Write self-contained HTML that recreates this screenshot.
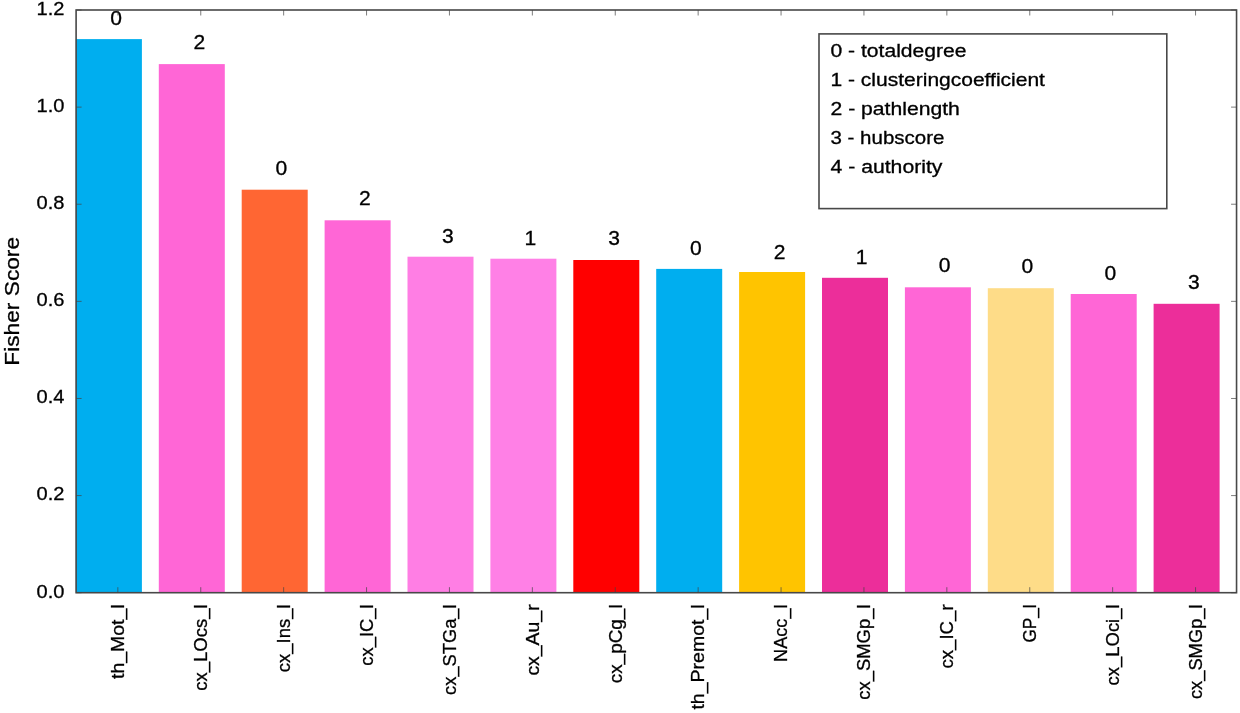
<!DOCTYPE html>
<html><head><meta charset="utf-8"><style>
html,body{margin:0;padding:0;background:#fff;}
svg{display:block;font-family:"Liberation Sans", sans-serif;filter:blur(0.4px);}
text{fill:#000;stroke:#000;stroke-width:0.3px;}
</style></head><body>
<svg width="1240" height="713" viewBox="0 0 1240 713">
<rect x="75.90" y="39.10" width="66.00" height="553.60" fill="#00AEEF"/>
<rect x="158.80" y="64.10" width="66.00" height="528.60" fill="#FF66D6"/>
<rect x="241.70" y="189.70" width="66.00" height="403.00" fill="#FF6633"/>
<rect x="324.60" y="220.30" width="66.00" height="372.40" fill="#FF66D6"/>
<rect x="407.50" y="256.70" width="66.00" height="336.00" fill="#FF7EE4"/>
<rect x="490.40" y="258.70" width="66.00" height="334.00" fill="#FF80E6"/>
<rect x="573.30" y="260.00" width="66.00" height="332.70" fill="#FF0000"/>
<rect x="656.20" y="268.90" width="66.00" height="323.80" fill="#00AEEF"/>
<rect x="739.10" y="272.00" width="66.00" height="320.70" fill="#FFC400"/>
<rect x="822.00" y="277.80" width="66.00" height="314.90" fill="#EC2E9A"/>
<rect x="904.90" y="287.30" width="66.00" height="305.40" fill="#FF66D6"/>
<rect x="987.80" y="288.20" width="66.00" height="304.50" fill="#FEDC88"/>
<rect x="1070.70" y="294.00" width="66.00" height="298.70" fill="#FF66D6"/>
<rect x="1153.60" y="303.80" width="66.00" height="288.90" fill="#EC2E9A"/>
<text text-anchor="middle" font-size="19.5" transform="translate(116.10,25.00) scale(1.08,1)">0</text>
<text text-anchor="middle" font-size="19.5" transform="translate(199.30,49.00) scale(1.08,1)">2</text>
<text text-anchor="middle" font-size="19.5" transform="translate(281.40,175.40) scale(1.08,1)">0</text>
<text text-anchor="middle" font-size="19.5" transform="translate(364.90,205.00) scale(1.08,1)">2</text>
<text text-anchor="middle" font-size="19.5" transform="translate(447.90,242.60) scale(1.08,1)">3</text>
<text text-anchor="middle" font-size="19.5" transform="translate(530.40,244.80) scale(1.08,1)">1</text>
<text text-anchor="middle" font-size="19.5" transform="translate(614.10,245.40) scale(1.08,1)">3</text>
<text text-anchor="middle" font-size="19.5" transform="translate(695.90,255.00) scale(1.08,1)">0</text>
<text text-anchor="middle" font-size="19.5" transform="translate(779.70,258.60) scale(1.08,1)">2</text>
<text text-anchor="middle" font-size="19.5" transform="translate(861.60,263.50) scale(1.08,1)">1</text>
<text text-anchor="middle" font-size="19.5" transform="translate(944.70,272.00) scale(1.08,1)">0</text>
<text text-anchor="middle" font-size="19.5" transform="translate(1027.40,272.80) scale(1.08,1)">0</text>
<text text-anchor="middle" font-size="19.5" transform="translate(1110.40,279.50) scale(1.08,1)">0</text>
<text text-anchor="middle" font-size="19.5" transform="translate(1193.90,288.50) scale(1.08,1)">3</text>
<rect x="76.1" y="10.0" width="1160.45" height="582.70" fill="none" stroke="#484848" stroke-width="1.6"/>
<line x1="117.85" y1="10.0" x2="117.85" y2="15.5" stroke="#444" stroke-width="0.7"/>
<line x1="117.85" y1="592.7" x2="117.85" y2="587.2" stroke="#444" stroke-width="0.7"/>
<line x1="200.75" y1="10.0" x2="200.75" y2="15.5" stroke="#444" stroke-width="0.7"/>
<line x1="200.75" y1="592.7" x2="200.75" y2="587.2" stroke="#444" stroke-width="0.7"/>
<line x1="283.65" y1="10.0" x2="283.65" y2="15.5" stroke="#444" stroke-width="0.7"/>
<line x1="283.65" y1="592.7" x2="283.65" y2="587.2" stroke="#444" stroke-width="0.7"/>
<line x1="366.55" y1="10.0" x2="366.55" y2="15.5" stroke="#444" stroke-width="0.7"/>
<line x1="366.55" y1="592.7" x2="366.55" y2="587.2" stroke="#444" stroke-width="0.7"/>
<line x1="449.45" y1="10.0" x2="449.45" y2="15.5" stroke="#444" stroke-width="0.7"/>
<line x1="449.45" y1="592.7" x2="449.45" y2="587.2" stroke="#444" stroke-width="0.7"/>
<line x1="532.35" y1="10.0" x2="532.35" y2="15.5" stroke="#444" stroke-width="0.7"/>
<line x1="532.35" y1="592.7" x2="532.35" y2="587.2" stroke="#444" stroke-width="0.7"/>
<line x1="615.25" y1="10.0" x2="615.25" y2="15.5" stroke="#444" stroke-width="0.7"/>
<line x1="615.25" y1="592.7" x2="615.25" y2="587.2" stroke="#444" stroke-width="0.7"/>
<line x1="698.15" y1="10.0" x2="698.15" y2="15.5" stroke="#444" stroke-width="0.7"/>
<line x1="698.15" y1="592.7" x2="698.15" y2="587.2" stroke="#444" stroke-width="0.7"/>
<line x1="781.05" y1="10.0" x2="781.05" y2="15.5" stroke="#444" stroke-width="0.7"/>
<line x1="781.05" y1="592.7" x2="781.05" y2="587.2" stroke="#444" stroke-width="0.7"/>
<line x1="863.95" y1="10.0" x2="863.95" y2="15.5" stroke="#444" stroke-width="0.7"/>
<line x1="863.95" y1="592.7" x2="863.95" y2="587.2" stroke="#444" stroke-width="0.7"/>
<line x1="946.85" y1="10.0" x2="946.85" y2="15.5" stroke="#444" stroke-width="0.7"/>
<line x1="946.85" y1="592.7" x2="946.85" y2="587.2" stroke="#444" stroke-width="0.7"/>
<line x1="1029.75" y1="10.0" x2="1029.75" y2="15.5" stroke="#444" stroke-width="0.7"/>
<line x1="1029.75" y1="592.7" x2="1029.75" y2="587.2" stroke="#444" stroke-width="0.7"/>
<line x1="1112.65" y1="10.0" x2="1112.65" y2="15.5" stroke="#444" stroke-width="0.7"/>
<line x1="1112.65" y1="592.7" x2="1112.65" y2="587.2" stroke="#444" stroke-width="0.7"/>
<line x1="1195.55" y1="10.0" x2="1195.55" y2="15.5" stroke="#444" stroke-width="0.7"/>
<line x1="1195.55" y1="592.7" x2="1195.55" y2="587.2" stroke="#444" stroke-width="0.7"/>
<line x1="76.1" y1="592.70" x2="81.6" y2="592.70" stroke="#444" stroke-width="0.7"/>
<line x1="1231.05" y1="592.70" x2="1236.55" y2="592.70" stroke="#444" stroke-width="0.7"/>
<line x1="76.1" y1="495.58" x2="81.6" y2="495.58" stroke="#444" stroke-width="0.7"/>
<line x1="1231.05" y1="495.58" x2="1236.55" y2="495.58" stroke="#444" stroke-width="0.7"/>
<line x1="76.1" y1="398.47" x2="81.6" y2="398.47" stroke="#444" stroke-width="0.7"/>
<line x1="1231.05" y1="398.47" x2="1236.55" y2="398.47" stroke="#444" stroke-width="0.7"/>
<line x1="76.1" y1="301.35" x2="81.6" y2="301.35" stroke="#444" stroke-width="0.7"/>
<line x1="1231.05" y1="301.35" x2="1236.55" y2="301.35" stroke="#444" stroke-width="0.7"/>
<line x1="76.1" y1="204.23" x2="81.6" y2="204.23" stroke="#444" stroke-width="0.7"/>
<line x1="1231.05" y1="204.23" x2="1236.55" y2="204.23" stroke="#444" stroke-width="0.7"/>
<line x1="76.1" y1="107.12" x2="81.6" y2="107.12" stroke="#444" stroke-width="0.7"/>
<line x1="1231.05" y1="107.12" x2="1236.55" y2="107.12" stroke="#444" stroke-width="0.7"/>
<line x1="76.1" y1="10.00" x2="81.6" y2="10.00" stroke="#444" stroke-width="0.7"/>
<line x1="1231.05" y1="10.00" x2="1236.55" y2="10.00" stroke="#444" stroke-width="0.7"/>
<text text-anchor="end" font-size="19" transform="translate(64.5,597.60) scale(1.057,1)">0.0</text>
<text text-anchor="end" font-size="19" transform="translate(64.5,500.48) scale(1.057,1)">0.2</text>
<text text-anchor="end" font-size="19" transform="translate(64.5,403.37) scale(1.057,1)">0.4</text>
<text text-anchor="end" font-size="19" transform="translate(64.5,306.25) scale(1.057,1)">0.6</text>
<text text-anchor="end" font-size="19" transform="translate(64.5,209.13) scale(1.057,1)">0.8</text>
<text text-anchor="end" font-size="19" transform="translate(64.5,112.02) scale(1.057,1)">1.0</text>
<text text-anchor="end" font-size="19" transform="translate(64.5,14.90) scale(1.057,1)">1.2</text>
<text text-anchor="end" font-size="19" transform="translate(124.10,604.4) rotate(-90) scale(1.0223,1)">th<tspan dy="-0.7">_</tspan><tspan dy="0.7">Mot</tspan><tspan dy="-0.7">_</tspan><tspan dy="0.7">l</tspan></text>
<text text-anchor="end" font-size="19" transform="translate(207.00,604.4) rotate(-90) scale(0.9741,1)">cx<tspan dy="-0.7">_</tspan><tspan dy="0.7">LOcs</tspan><tspan dy="-0.7">_</tspan><tspan dy="0.7">l</tspan></text>
<text text-anchor="end" font-size="19" transform="translate(289.90,604.4) rotate(-90) scale(0.9725,1)">cx<tspan dy="-0.7">_</tspan><tspan dy="0.7">Ins</tspan><tspan dy="-0.7">_</tspan><tspan dy="0.7">l</tspan></text>
<text text-anchor="end" font-size="19" transform="translate(372.80,604.4) rotate(-90) scale(0.9678,1)">cx<tspan dy="-0.7">_</tspan><tspan dy="0.7">IC</tspan><tspan dy="-0.7">_</tspan><tspan dy="0.7">l</tspan></text>
<text text-anchor="end" font-size="19" transform="translate(455.70,604.4) rotate(-90) scale(0.9632,1)">cx<tspan dy="-0.7">_</tspan><tspan dy="0.7">STGa</tspan><tspan dy="-0.7">_</tspan><tspan dy="0.7">l</tspan></text>
<text text-anchor="end" font-size="19" transform="translate(538.60,604.4) rotate(-90) scale(1.0213,1)">cx<tspan dy="-0.7">_</tspan><tspan dy="0.7">Au</tspan><tspan dy="-0.7">_</tspan><tspan dy="0.7">r</tspan></text>
<text text-anchor="end" font-size="19" transform="translate(621.50,604.4) rotate(-90) scale(0.9964,1)">cx<tspan dy="-0.7">_</tspan><tspan dy="0.7">pCg</tspan><tspan dy="-0.7">_</tspan><tspan dy="0.7">l</tspan></text>
<text text-anchor="end" font-size="19" transform="translate(704.40,604.4) rotate(-90) scale(1.0272,1)">th<tspan dy="-0.7">_</tspan><tspan dy="0.7">Premot</tspan><tspan dy="-0.7">_</tspan><tspan dy="0.7">l</tspan></text>
<text text-anchor="end" font-size="19" transform="translate(787.30,604.4) rotate(-90) scale(0.9559,1)">NAcc<tspan dy="-0.7">_</tspan><tspan dy="0.7">l</tspan></text>
<text text-anchor="end" font-size="19" transform="translate(870.20,604.4) rotate(-90) scale(0.9704,1)">cx<tspan dy="-0.7">_</tspan><tspan dy="0.7">SMGp</tspan><tspan dy="-0.7">_</tspan><tspan dy="0.7">l</tspan></text>
<text text-anchor="end" font-size="19" transform="translate(953.10,604.4) rotate(-90) scale(0.9792,1)">cx<tspan dy="-0.7">_</tspan><tspan dy="0.7">IC</tspan><tspan dy="-0.7">_</tspan><tspan dy="0.7">r</tspan></text>
<text text-anchor="end" font-size="19" transform="translate(1036.00,604.4) rotate(-90) scale(0.9047,1)">GP<tspan dy="-0.7">_</tspan><tspan dy="0.7">l</tspan></text>
<text text-anchor="end" font-size="19" transform="translate(1118.90,604.4) rotate(-90) scale(0.9721,1)">cx<tspan dy="-0.7">_</tspan><tspan dy="0.7">LOci</tspan><tspan dy="-0.7">_</tspan><tspan dy="0.7">l</tspan></text>
<text text-anchor="end" font-size="19" transform="translate(1201.80,604.4) rotate(-90) scale(0.9645,1)">cx<tspan dy="-0.7">_</tspan><tspan dy="0.7">SMGp</tspan><tspan dy="-0.7">_</tspan><tspan dy="0.7">l</tspan></text>
<text text-anchor="middle" font-size="20.5" transform="translate(18.8,301.3) rotate(-90) scale(1.1088,1)">Fisher Score</text>
<rect x="819" y="33.9" width="347.8" height="174.7" fill="#fff" stroke="#484848" stroke-width="1.6"/>
<text font-size="17.5" transform="translate(830.5,56.60) scale(1.2056,1)">0 - totaldegree</text>
<text font-size="17.5" transform="translate(830.5,85.77) scale(1.2007,1)">1 - clusteringcoefficient</text>
<text font-size="17.5" transform="translate(830.5,114.94) scale(1.2095,1)">2 - pathlength</text>
<text font-size="17.5" transform="translate(830.5,144.11) scale(1.1710,1)">3 - hubscore</text>
<text font-size="17.5" transform="translate(830.5,173.28) scale(1.2120,1)">4 - authority</text>
</svg>
</body></html>
